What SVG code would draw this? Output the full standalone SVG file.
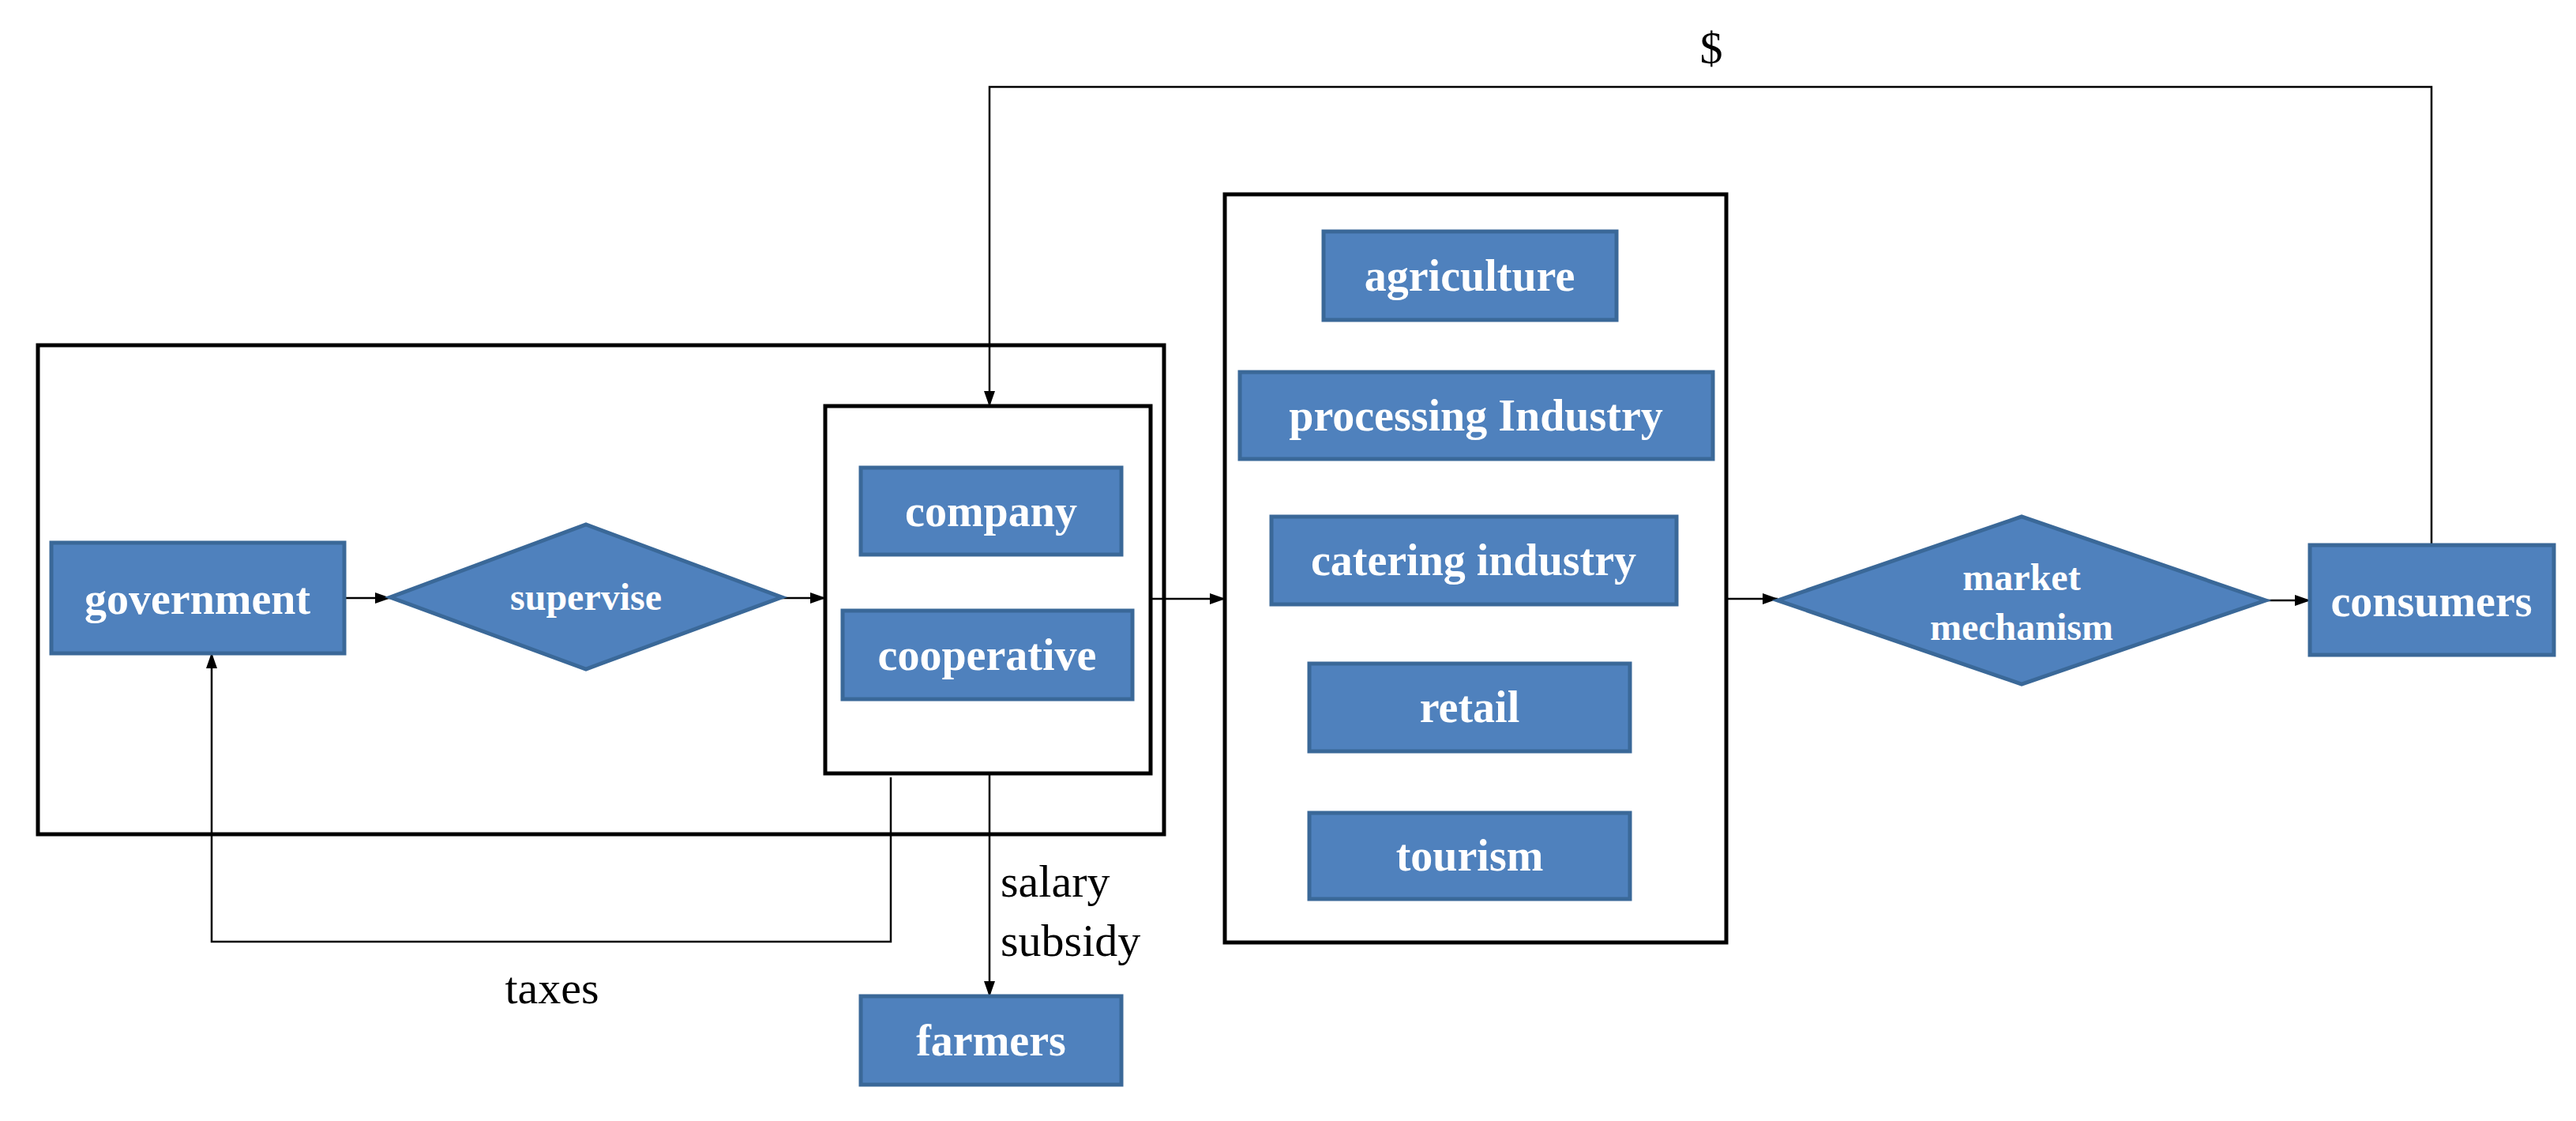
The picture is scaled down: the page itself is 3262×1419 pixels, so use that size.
<svg xmlns="http://www.w3.org/2000/svg" width="3262" height="1419" viewBox="0 0 3262 1419">
<style>
.n{fill:#4F81BD;stroke:#3A6898;stroke-width:5}
.t{font-family:"Liberation Serif",serif;font-weight:bold;fill:#fff;font-size:56px;text-anchor:middle}
.s{font-family:"Liberation Serif",serif;font-weight:bold;fill:#fff;font-size:48px;text-anchor:middle}
.l{font-family:"Liberation Serif",serif;fill:#000;font-size:58px}
.box{fill:none;stroke:#000;stroke-width:5}
.c{fill:none;stroke:#000;stroke-width:2.5;marker-end:url(#a)}
</style>
<defs><marker id="a" markerWidth="10" markerHeight="10" refX="9" refY="5" orient="auto" markerUnits="userSpaceOnUse" viewBox="0 0 10 10"><path d="M0,0 L10,5 L0,10 z" fill="#000"/></marker>
<marker id="b" markerWidth="20" markerHeight="20" refX="19" refY="10" orient="auto" markerUnits="userSpaceOnUse" viewBox="0 0 20 20"><path d="M0,3 L20,10 L0,17 z" fill="#000"/></marker></defs>
<g id="outer"><rect class="box" x="48" y="437" width="1426" height="619"/></g>
<g id="inner"><rect class="box" x="1045" y="514" width="412" height="465"/></g>
<g id="sectors"><rect class="box" x="1551" y="246" width="635" height="947"/></g>
<g id="connectors" style="fill:none;stroke:#000;stroke-width:2.5">
<path d="M436 757 H494" marker-end="url(#b)"/>
<path d="M990 757 H1045" marker-end="url(#b)"/>
<path d="M1457 758 H1551" marker-end="url(#b)"/>
<path d="M2186 758 H2251" marker-end="url(#b)"/>
<path d="M2869 760 H2925" marker-end="url(#b)"/>
<path d="M3079 690 V110 H1253 V514" marker-end="url(#b)"/>
<path d="M1128 984 V1192 H268 V827" marker-end="url(#b)"/>
<path d="M1253 979 V1261" marker-end="url(#b)"/>
</g>
<g id="government"><rect class="n" x="65" y="687" width="371" height="140"/><text class="t" x="250" y="777">government</text></g>
<g id="supervise"><polygon class="n" points="494,756 742,664 990,756 742,847"/><text class="s" x="742" y="772">supervise</text></g>
<g id="company"><rect class="n" x="1090" y="592" width="330" height="110"/><text class="t" x="1255" y="666">company</text></g>
<g id="cooperative"><rect class="n" x="1067" y="773" width="367" height="112"/><text class="t" x="1250" y="848">cooperative</text></g>
<g id="farmers"><rect class="n" x="1090" y="1261" width="330" height="112"/><text class="t" x="1255" y="1336">farmers</text></g>
<g id="agriculture"><rect class="n" x="1676" y="293" width="371" height="112"/><text class="t" x="1861" y="368">agriculture</text></g>
<g id="processing"><rect class="n" x="1570" y="471" width="599" height="110"/><text class="t" x="1869" y="545">processing Industry</text></g>
<g id="catering"><rect class="n" x="1610" y="654" width="513" height="111"/><text class="t" x="1866" y="728">catering industry</text></g>
<g id="retail"><rect class="n" x="1658" y="840" width="406" height="111"/><text class="t" x="1861" y="914">retail</text></g>
<g id="tourism"><rect class="n" x="1658" y="1029" width="406" height="109"/><text class="t" x="1861" y="1102">tourism</text></g>
<g id="market"><polygon class="n" points="2251,760 2560,654 2869,760 2560,866"/><text class="s" x="2560" y="747">market</text><text class="s" x="2560" y="810">mechanism</text></g>
<g id="consumers"><rect class="n" x="2925" y="690" width="309" height="139"/><text class="t" x="3079" y="780">consumers</text></g>
<g id="labels">
<text class="l" x="2167" y="80" text-anchor="middle">$</text>
<text class="l" x="699" y="1270" text-anchor="middle">taxes</text>
<text class="l" x="1267" y="1135">salary</text>
<text class="l" x="1267" y="1210">subsidy</text>
</g>
</svg>
